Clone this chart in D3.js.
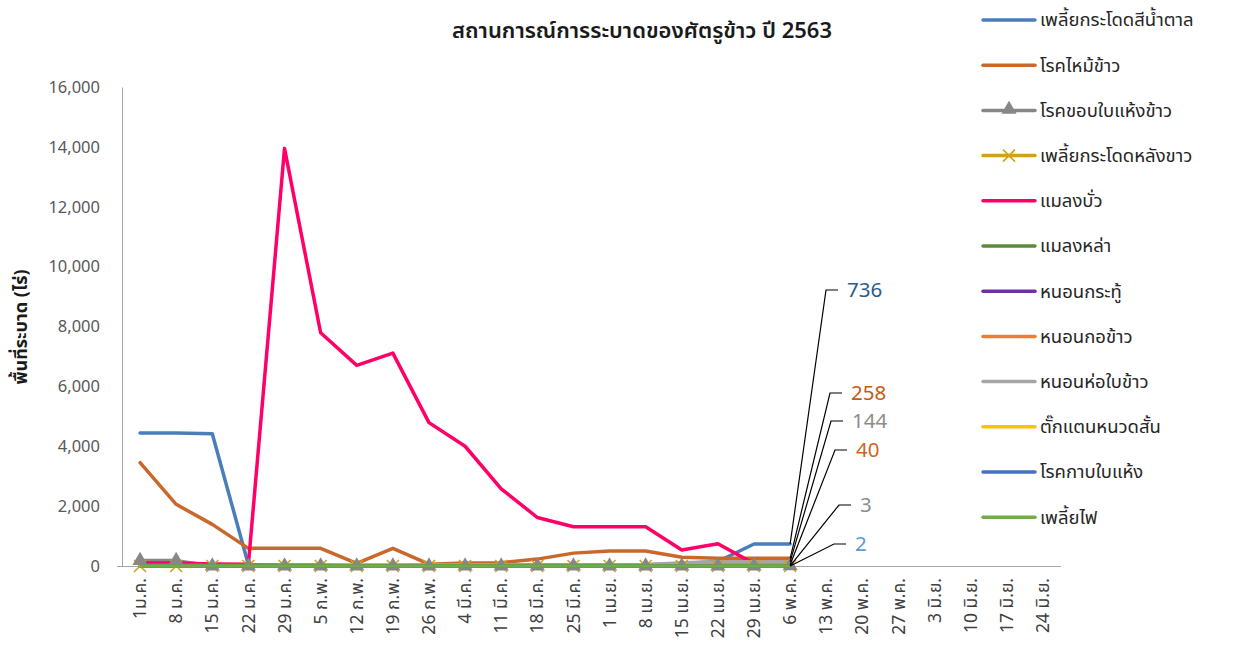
<!DOCTYPE html>
<html><head><meta charset="utf-8">
<script src="https://cdn.jsdelivr.net/npm/d3@7"></script>
<style>
body{margin:0;background:#fff;}
text{font-family:Tahoma,"Leelawadee UI","Noto Sans Thai","Noto Sans",sans-serif;}
</style></head>
<body><svg id="chart" width="1241" height="649"></svg>
<script>
const categories = ["1ม.ค.","8 ม.ค.","15 ม.ค.","22 ม.ค.","29 ม.ค.","5 ก.พ.","12 ก.พ.","19 ก.พ.","26 ก.พ.","4 มี.ค.","11 มี.ค.","18 มี.ค.","25 มี.ค.","1 เม.ย.","8 เม.ย.","15 เม.ย.","22 เม.ย.","29 เม.ย.","6 พ.ค.","13 พ.ค.","20 พ.ค.","27 พ.ค.","3 มิ.ย.","10 มิ.ย.","17 มิ.ย.","24 มิ.ย."];
const yTicks = [0,2000,4000,6000,8000,10000,12000,14000,16000];
const seriesNames = ["เพลี้ยกระโดดสีน้ำตาล","โรคไหม้ข้าว","โรคขอบใบแห้งข้าว","เพลี้ยกระโดดหลังขาว","แมลงบั่ว","แมลงหล่า","หนอนกระทู้","หนอนกอข้าว","หนอนห่อใบข้าว","ตั๊กแตนหนวดสั้น","โรคกาบใบแห้ง","เพลี้ยไฟ"];
const _ = null;
const bph      = [4440,4440,4420,40,30,30,20,20,20,20,20,20,30,30,40,80,150,736,736,_,_,_,_,_,_,_];
const blast    = [3450,2060,1390,590,590,590,90,590,60,100,110,230,430,500,500,290,258,258,258,_,_,_,_,_,_,_];
const blight   = [180,180,0,0,0,0,0,0,0,0,0,0,0,0,0,0,0,0,3,_,_,_,_,_,_,_];
const wbph     = [0,0,0,0,0,0,0,0,0,0,0,0,0,0,0,0,0,0,0,_,_,_,_,_,_,_];
const gallMidge= [100,100,70,60,13950,7790,6700,7110,4790,4000,2580,1620,1310,1310,1310,534,745,80,_,_,_,_,_,_,_,_];
const zigzag   = [0,0,0,0,0,0,0,0,0,0,0,0,0,0,0,0,0,0,0,_,_,_,_,_,_,_];
const armyworm = [0,0,0,0,0,0,0,0,0,0,0,0,0,0,0,0,0,0,0,_,_,_,_,_,_,_];
const stemBorer= [0,0,0,0,0,0,0,0,40,40,40,40,40,40,40,40,40,40,40,_,_,_,_,_,_,_];
const leafFolder=[20,20,20,20,20,20,30,30,30,30,30,30,30,30,40,110,144,144,144,_,_,_,_,_,_,_];
const grasshopper=[0,0,0,0,0,0,0,0,0,0,0,0,0,0,0,0,0,0,0,_,_,_,_,_,_,_];
const sheath   = [2,2,2,2,2,2,2,2,2,2,2,2,2,2,2,2,2,2,2,_,_,_,_,_,_,_];
const thrips   = [0,0,0,0,0,0,0,0,0,0,0,0,0,0,0,0,0,0,0,_,_,_,_,_,_,_];
const seriesValues = [bph,blast,blight,wbph,gallMidge,zigzag,armyworm,stemBorer,leafFolder,grasshopper,sheath,thrips];
const seriesColors = ["#4A7EBB","#C8692B","#878787","#D4A017","#FF0066","#5A8A3A","#7030A0","#ED7D31","#A5A5A5","#FFC000","#4472C4","#70AD47"];
const seriesMarkers = [null,null,"triangle","x",null,null,null,null,null,null,null,null];
// data labels at last point: series index, label colour, label anchor offset (layout)
const labelSeries = [0,1,8,7,2,10];
const labelColors = ["#2B5C8A","#C55A11","#8C8C8C","#D0661E","#8C8C8C","#5B9BD5"];
const labelPos = [[826,290],[830,393],[831,421],[835,450],[839,505],[834,544]];

const svg = d3.select("#chart");
const x = d3.scaleBand().domain(categories).range([122,1061]).padding(0);
const cx = c => x(c) + x.bandwidth()/2;
const y = d3.scaleLinear().domain([0,16000]).range([566,87]);

// title
svg.append("text").attr("x",642).attr("y",38).attr("text-anchor","middle")
  .attr("font-size",22).attr("font-weight","600").attr("fill","#1a1a1a")
  .text("สถานการณ์การระบาดของศัตรูข้าว ปี 2563");

// y axis
const yAxis = svg.append("g").attr("transform","translate(122,0)")
  .call(d3.axisLeft(y).tickValues(yTicks).tickSize(0).tickPadding(22).tickFormat(d3.format(",")));
yAxis.select(".domain").attr("stroke","#A6A6A6");
yAxis.selectAll("text").attr("font-size",16.5).attr("fill","#595959").attr("font-family","Tahoma,'Noto Sans',sans-serif");
svg.append("text").attr("transform","translate(27,327) rotate(-90)").attr("text-anchor","middle")
  .attr("font-size",18).attr("font-weight","bold").attr("fill","#1a1a1a").text("พื้นที่ระบาด (ไร่)");

// x axis
const xAxis = svg.append("g").attr("transform","translate(0,566)")
  .call(d3.axisBottom(x).tickSize(0).tickPadding(0));
xAxis.select(".domain").attr("stroke","#A6A6A6").attr("d","M117,0.5H1061");
xAxis.selectAll(".tick text").attr("transform","rotate(-90)").attr("text-anchor","end")
  .attr("x",-12).attr("y",0).attr("dy","0.35em").attr("font-size",17.5).attr("fill","#404040");

// lines
const line = d3.line().defined(d => d[1] !== null).x(d => cx(d[0])).y(d => y(d[1]));
const order = [0,1,2,3,4,6,7,8,9,10,5,11];
const gLines = svg.append("g");
order.forEach(i => {
  const pts = categories.map((c,k) => [c, seriesValues[i][k]]);
  gLines.append("path").attr("d", line(pts)).attr("fill","none")
    .attr("stroke", seriesColors[i]).attr("stroke-width",3.5).attr("stroke-linejoin","round").attr("stroke-linecap","round");
});
// markers
const gMarkers = svg.append("g");
[3,2].forEach(i => {
  categories.forEach((c,k) => {
    const v = seriesValues[i][k];
    if (v === null) return;
    if (seriesMarkers[i] === "x") {
      gMarkers.append("path").attr("transform",`translate(${cx(c)},${y(v)})`)
        .attr("d","M-6,-6L6,6M-6,6L6,-6").attr("stroke",seriesColors[i]).attr("stroke-width",1.6);
    } else {
      gMarkers.append("path").attr("transform",`translate(${cx(c)},${y(v)})`)
        .attr("d", d3.symbol(d3.symbolTriangle, 100)()).attr("fill",seriesColors[i]);
    }
  });
});
// green lines on top
[5,11].forEach(i => {
  const pts = categories.map((c,k) => [c, seriesValues[i][k]]);
  svg.append("path").attr("d", line(pts)).attr("fill","none")
    .attr("stroke", seriesColors[i]).attr("stroke-width",2.5);
});

// data labels with leader lines
labelSeries.forEach((si,j) => {
  const vals = seriesValues[si];
  let k = vals.length-1; while (vals[k] === null) k--;
  const px = cx(categories[k]), py = y(vals[k]);
  const [lx,ly] = labelPos[j];
  svg.append("path").attr("d",`M${px},${py}L${lx},${ly}H${lx+12}`).attr("fill","none").attr("stroke","#000").attr("stroke-width",1.2);
  svg.append("text").attr("x",lx+21).attr("y",ly).attr("dy","0.34em").attr("font-size",20.5)
    .attr("fill",labelColors[j]).attr("font-family","Carlito,Calibri,'Liberation Sans',sans-serif").text(d3.format(",")(vals[k]));
});

// legend
const lg = svg.append("g");
seriesNames.forEach((n,i) => {
  const yy = 20 + i*45.2;
  const g = lg.append("g").attr("transform",`translate(0,${yy})`);
  g.append("line").attr("x1",983).attr("x2",1035).attr("y1",0).attr("y2",0)
    .attr("stroke",seriesColors[i]).attr("stroke-width",3.5).attr("stroke-linecap","round");
  if (seriesMarkers[i] === "triangle") {
    g.append("path").attr("transform","translate(1009,-1)").attr("d",d3.symbol(d3.symbolTriangle,100)()).attr("fill",seriesColors[i]);
  } else if (seriesMarkers[i] === "x") {
    g.append("path").attr("transform","translate(1009,0)").attr("d","M-6,-6L6,6M-6,6L6,-6").attr("stroke",seriesColors[i]).attr("stroke-width",1.6);
  }
  g.append("text").attr("x",1040).attr("y",0).attr("dy","0.35em").attr("font-size",18.5).attr("fill","#262626").text(n);
});
</script></body></html>
